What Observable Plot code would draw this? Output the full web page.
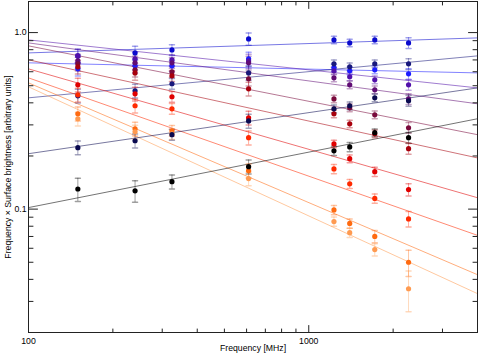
<!DOCTYPE html>
<html><head><meta charset="utf-8">
<script src="https://cdn.jsdelivr.net/npm/d3@7"></script>
<script src="https://cdn.jsdelivr.net/npm/@observablehq/plot@0.6"></script>
<style>html,body{margin:0;padding:0;background:#fff}svg{display:block}</style>
</head><body><div id="chart"></div>
<script>
// Observing frequencies (MHz)
const freqs = [150, 240, 325, 610, 1230, 1400, 1720, 2270];
// Frequencies at which the fitted power-law lines are drawn (plot edges)
const fitFreqs = [100, 4000];

// Tick values and labels
const xMajor = [100, 1000];
const xMajorLabels = ["100", "1000"];
const xMinor = [200, 300, 400, 500, 600, 700, 800, 900, 2000, 3000];
const yMajor = [0.1, 1.0];
const yMajorLabels = ["0.1", "1.0"];
const yMinor = [0.03, 0.04, 0.05, 0.06, 0.07, 0.08, 0.09, 0.2, 0.3, 0.4, 0.5, 0.6, 0.7, 0.8, 0.9];
const xLabel = "Frequency [MHz]";
const yLabel = "Frequency \u00d7 Surface brightness [arbitrary units]";

// Series: frequency x surface brightness values at each frequency
const names = ["blue1", "blue2", "navy1", "violet", "purple", "maroon", "darkred", "red", "redorange", "orange", "lightorange", "navy2", "black"];
const colors = ["#0a0acd", "#1c1cff", "#18187c", "#5210aa", "#600c74", "#7a0a3c", "#a8000c", "#e00000", "#ff2a00", "#ff6a10", "#ff9a50", "#0a0a50", "#000000"];

const blue1Values = [0.738, 0.767, 0.798, 0.921, 0.909, 0.874, 0.909, 0.874];
const blue2Values = [0.623, 0.648, 0.648, 0.710, 0.631, 0.607, 0.615, 0.584];
const navy1Values = [0.438, 0.468, 0.513, 0.591, 0.665, 0.640, 0.665, 0.665];
const violetValues = [0.738, 0.710, 0.701, 0.691, 0.607, 0.562, 0.540, 0.506];
const purpleValues = [0.691, 0.674, 0.674, 0.674, 0.554, 0.506, 0.474, 0.421];
const maroonValues = [0.665, 0.615, 0.599, 0.547, 0.421, 0.375, 0.342, 0.289];
const darkredValues = [0.640, 0.591, 0.569, 0.480, 0.347, 0.304, 0.267, 0.220];
const redValues = [0.506, 0.450, 0.433, 0.329, 0.234, 0.193, 0.163, 0.129];
const redorangeValues = [0.444, 0.385, 0.370, 0.254, 0.169, 0.139, 0.115, 0.088];
const orangeValues = [0.347, 0.285, 0.278, 0.165, 0.099, 0.083, 0.070, 0.050];
const lightorangeValues = [0.325, 0.274, 0.267, 0.149, 0.085, 0.0735, 0.059, 0.0354];
const navy2Values = [0.223, 0.244, 0.264, 0.316, 0.370, 0.385, 0.427, 0.411];
const blackValues = [0.130, 0.127, 0.143, 0.174, 0.214, 0.225, 0.271, 0.254];

// Error bars (percent of value)
const blue1Err = [9, 9, 7, 8, 5, 5, 5, 7];
const blue2Err = [9, 9, 7, 9, 5, 5, 5, 7];
const navy1Err = [9, 9, 7, 9, 5, 5, 5, 7];
const violetErr = [9, 9, 7, 9, 5, 5, 5, 7];
const purpleErr = [9, 9, 7, 9, 5, 5, 5, 7];
const maroonErr = [9, 9, 7, 9, 5, 5, 5, 7];
const darkredErr = [9, 9, 7, 9, 5, 5, 5, 7];
const redErr = [9, 9, 7, 9, 5, 5, 6, 8];
const redorangeErr = [9, 9, 7, 9, 6, 6, 6, 10];
const orangeErr = [9, 9, 7, 9, 6, 6, 8, 17];
const lightorangeErr = [9, 9, 7, 9, 6, 6, 8, 26];
const navy2Err = [9, 9, 7, 9, 5, 5, 5, 7];
const blackErr = [15, 14, 9, 9, 6, 6, 5, 7];

// Fitted power-law lines: values at 100 MHz and 4000 MHz
const blue1Fit = [0.767, 0.933];
const blue2Fit = [0.674, 0.591];
const navy1Fit = [0.427, 0.738];
const violetFit = [0.909, 0.486];
const purpleFit = [0.874, 0.395];
const maroonFit = [0.841, 0.264];
const darkredFit = [0.701, 0.195];
const redFit = [0.623, 0.116];
const redorangeFit = [0.554, 0.071];
const orangeFit = [0.519, 0.0425];
const lightorangeFit = [0.493, 0.0332];
const navy2Fit = [0.206, 0.486];
const blackFit = [0.102, 0.325];

const allValues = [blue1Values, blue2Values, navy1Values, violetValues, purpleValues, maroonValues, darkredValues, redValues, redorangeValues, orangeValues, lightorangeValues, navy2Values, blackValues];
const allErr = [blue1Err, blue2Err, navy1Err, violetErr, purpleErr, maroonErr, darkredErr, redErr, redorangeErr, orangeErr, lightorangeErr, navy2Err, blackErr];
const allFit = [blue1Fit, blue2Fit, navy1Fit, violetFit, purpleFit, maroonFit, darkredFit, redFit, redorangeFit, orangeFit, lightorangeFit, navy2Fit, blackFit];

const points = names.flatMap((name, s) => freqs.map((f, i) => ({
  name, color: colors[s], f, v: allValues[s][i],
  lo: allValues[s][i] * (1 - allErr[s][i] / 100),
  hi: allValues[s][i] * (1 + allErr[s][i] / 100)
})));
const fits = names.flatMap((name, s) => fitFreqs.map((f, i) => ({name, color: colors[s], f, v: allFit[s][i]})));

const capShape = {draw(ctx, l) { ctx.moveTo(-l / 2, 0); ctx.lineTo(l / 2, 0); }};
const tickShape = {draw(ctx, l) { ctx.moveTo(0, 0); ctx.lineTo(0, -l); }};
const tickStyle = {shape: tickShape, anchor: "start", stroke: "#222", strokeWidth: 1};

const chart = Plot.plot({
  width: 479, height: 356,
  marginLeft: 28, marginRight: 2, marginTop: 1, marginBottom: 24,
  x: {type: "log", domain: [100, 4000], axis: null},
  y: {type: "log", domain: [0.02, 1.5], axis: null},
  color: {type: "identity"},
  style: {fontFamily: "'Liberation Sans', Arial, Helvetica, sans-serif", fontSize: "8.7px", background: "#fff", color: "#000"},
  marks: [
    Plot.line(fits, {x: "f", y: "v", z: "name", stroke: "color", strokeOpacity: 0.55, strokeWidth: 1, clip: true}),
    Plot.ruleX(points, {x: "f", y1: "lo", y2: "hi", stroke: "color", strokeOpacity: 0.38, strokeWidth: 1}),
    Plot.vector(points, {x: "f", y: "lo", length: 5, shape: capShape, anchor: "start", stroke: "color", strokeOpacity: 0.38}),
    Plot.vector(points, {x: "f", y: "hi", length: 5, shape: capShape, anchor: "start", stroke: "color", strokeOpacity: 0.38}),
    Plot.dot(points, {x: "f", y: "v", r: 2.6, fill: "color"}),
    Plot.frame({stroke: "#222", strokeWidth: 1}),
    // inward ticks on all four sides
    Plot.vector(xMajor, {x: d => d, frameAnchor: "bottom", length: 7, rotate: 0, ...tickStyle}),
    Plot.vector(xMinor, {x: d => d, frameAnchor: "bottom", length: 3.5, rotate: 0, ...tickStyle}),
    Plot.vector(xMajor, {x: d => d, frameAnchor: "top", length: 7, rotate: 180, ...tickStyle}),
    Plot.vector(xMinor, {x: d => d, frameAnchor: "top", length: 3.5, rotate: 180, ...tickStyle}),
    Plot.vector(yMajor, {y: d => d, frameAnchor: "left", length: 9, rotate: 90, ...tickStyle}),
    Plot.vector(yMinor, {y: d => d, frameAnchor: "left", length: 4.5, rotate: 90, ...tickStyle}),
    Plot.vector(yMajor, {y: d => d, frameAnchor: "right", length: 9, rotate: -90, ...tickStyle}),
    Plot.vector(yMinor, {y: d => d, frameAnchor: "right", length: 4.5, rotate: -90, ...tickStyle}),
    // tick labels
    Plot.axisX({ticks: xMajor, anchor: "bottom", tickSize: 0, tickPadding: 5, tickFormat: d => xMajorLabels[xMajor.indexOf(d)], label: null}),
    Plot.axisY({ticks: yMajor, anchor: "left", tickSize: 0, tickPadding: 2, tickFormat: d => yMajorLabels[yMajor.indexOf(d)], label: null}),
    // axis titles
    Plot.text([xLabel], {text: d => d, frameAnchor: "bottom", dy: 18, textAnchor: "middle"}),
    Plot.text([yLabel], {text: d => d, frameAnchor: "left", rotate: -90, dx: -20, textAnchor: "middle"})
  ]
});
document.getElementById("chart").appendChild(chart);
</script>
</body></html>
